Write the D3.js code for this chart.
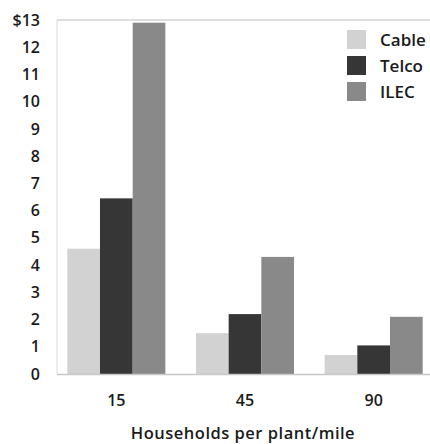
<!DOCTYPE html>
<html><head><meta charset="utf-8">
<script src="https://cdn.jsdelivr.net/npm/d3@7"></script>
<style>body{margin:0;background:#fff}svg{display:block}</style>
</head><body>
<script>
const categories = ["15", "45", "90"];
const seriesNames = ["Cable", "Telco", "ILEC"];
const cable = [4.6, 1.5, 0.7];
const telco = [6.45, 2.2, 1.05];
const ilec = [12.9, 4.3, 2.1];
const yTicks = [0,1,2,3,4,5,6,7,8,9,10,11,12,13];
const xTitle = "Households per plant/mile";
const colors = ["#d2d2d2", "#363636", "#898989"];

const W = 430, H = 444;
const svg = d3.select("body").append("svg").attr("width", W).attr("height", H);
const font = "'Open Sans', sans-serif";

const y = d3.scaleLinear().domain([0, 13]).range([374, 20]);
const x0 = d3.scaleBand().domain(categories).range([52, 438]).paddingInner(0.238).paddingOuter(0.119);
const x1 = d3.scaleBand().domain(seriesNames).range([0, x0.bandwidth()]);

const data = categories.map((c, i) => ({cat: c, vals: [cable[i], telco[i], ilec[i]]}));

// frame lines
svg.append("line").attr("x1", 57).attr("x2", 430).attr("y1", y(13)).attr("y2", y(13))
  .attr("stroke", "#bdbdbd").attr("stroke-width", 1.2);
svg.append("line").attr("x1", 57).attr("x2", 57).attr("y1", y(13)).attr("y2", y(0))
  .attr("stroke", "#d8d8d8").attr("stroke-width", 1);

// bars
const g = svg.append("g");
data.forEach(d => {
  g.selectAll(null).data(d.vals).enter().append("rect")
    .attr("x", (v, j) => x0(d.cat) + x1(seriesNames[j]))
    .attr("width", x1.bandwidth())
    .attr("y", v => y(v))
    .attr("height", v => y(0) - y(v))
    .attr("fill", (v, j) => colors[j]);
});

// baseline
svg.append("line").attr("x1", 57).attr("x2", 430).attr("y1", y(0) + 0.5).attr("y2", y(0) + 0.5)
  .attr("stroke", "#c8c8c8").attr("stroke-width", 1.5);

// y axis
const yAxis = svg.append("g").attr("transform", "translate(40,0)")
  .call(d3.axisLeft(y).tickValues(yTicks).tickSize(0).tickPadding(0)
    .tickFormat(d => d === 13 ? "$13" : String(d)));
yAxis.select(".domain").remove();
yAxis.selectAll("text").attr("font-family", font).attr("font-size", 16).attr("font-weight", 600)
  .attr("fill", "#1a1a1a");

// x axis
const xAxis = svg.append("g").attr("transform", `translate(0,${y(0)})`)
  .call(d3.axisBottom(x0).tickSize(0).tickPadding(21));
xAxis.select(".domain").remove();
xAxis.selectAll("text").attr("font-family", font).attr("font-size", 16).attr("font-weight", 600)
  .attr("fill", "#1a1a1a");

svg.append("text").attr("x", 243).attr("y", 439).attr("text-anchor", "middle")
  .attr("font-family", font).attr("font-size", 16.5).attr("font-weight", 600).attr("fill", "#1a1a1a")
  .attr("letter-spacing", 0.5)
  .text(xTitle);

// legend
const leg = svg.append("g");
seriesNames.forEach((s, i) => {
  const yy = 30 + i * 26;
  leg.append("rect").attr("x", 347).attr("y", yy).attr("width", 19).attr("height", 19).attr("fill", colors[i]);
  leg.append("text").attr("x", 380).attr("y", yy + 16).attr("font-family", font)
    .attr("font-size", 17).attr("font-weight", 600).attr("fill", "#1a1a1a").text(s);
});
</script>
</body></html>
